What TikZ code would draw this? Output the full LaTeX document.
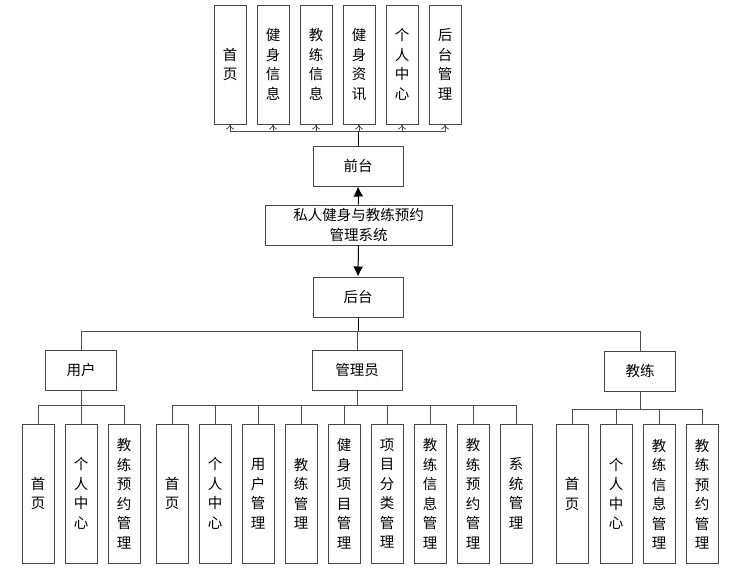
\documentclass[tikz,border=0pt]{standalone}
\usepackage{fontspec}
\setmainfont{Noto Sans CJK SC}
\usetikzlibrary{arrows,arrows.meta,shapes,positioning}
\tikzset{>=stealth}
\tikzset{
  box/.style={draw=black!72, line width=1pt, fill=white, inner sep=0pt,
    align=center, font=\fontsize{14.5}{19.5}\selectfont},
  colbox/.style={box, minimum width=32pt, minimum height=119pt},
  leafbox/.style={box, minimum width=32pt, minimum height=139pt},
  midbox/.style={box, minimum width=90pt, minimum height=40pt},
  rolebox/.style={box, minimum width=71pt, minimum height=40pt},
  link/.style={draw=black!70, line width=1pt},
  bigtip/.style={draw=black, -{Latex[length=10pt,width=10pt]}},
  smalltip/.style={-{To[length=5pt,width=8pt,line width=0.8pt]}}
}

\begin{document}
\begin{tikzpicture}[x=1pt,y=-1pt]
  \useasboundingbox (0,0) rectangle (734,574);

  % top part
  \node[colbox] (f1) at (230,64.5) {首\\页};
  \node[colbox] (f2) at (273,64.5) {健\\身\\信\\息};
  \node[colbox] (f3) at (316,64.5) {教\\练\\信\\息};
  \node[colbox] (f4) at (359,64.5) {健\\身\\资\\讯};
  \node[colbox] (f5) at (402,64.5) {个\\人\\中\\心};
  \node[colbox] (f6) at (445,64.5) {后\\台\\管\\理};
  \node[midbox] (front) at (358,166) {前台};
  \node[box, minimum width=187pt, minimum height=40pt] (sys) at (358.5,225)
    {私人健身与教练预约\\管理系统};
  \node[midbox] (back) at (358,297) {后台};
  \coordinate (fb) at (358,131);
  \draw[link,draw=black] (front.north) -- (fb);
  \foreach \i in {1,...,6}
    \draw[link,smalltip] (fb) -| (f\i.south);
  \draw[link,bigtip] (sys.north) -- (front.south);
  \draw[link,bigtip] (sys.south) -- (back.north);

  % roles
  \node[rolebox] (user) at (81,370) {用户};
  \node[midbox] (admin) at (357,370) {管理员};
  \node[rolebox] (coach) at (640,371) {教练};
  \coordinate (bb) at (358,331);
  \draw[link,draw=black] (back.south) -- (bb);
  \foreach \r in {user,admin,coach}
    \draw[link] (bb) -| (\r.north);

  % user
  \node[leafbox] (u1) at (38,493.5) {首\\页};
  \node[leafbox] (u2) at (81,493.5) {个\\人\\中\\心};
  \node[leafbox] (u3) at (124,493.5) {教\\练\\预\\约\\管\\理};
  \coordinate (ub) at (81,405);
  \draw[link] (user.south) -- (ub);
  \foreach \i in {1,2,3}
    \draw[link] (ub) -| (u\i.north);

  % admin
  \node[leafbox] (a1) at (172,493.5) {首\\页};
  \node[leafbox] (a2) at (215,493.5) {个\\人\\中\\心};
  \node[leafbox] (a3) at (258,493.5) {用\\户\\管\\理};
  \node[leafbox] (a4) at (301,493.5) {教\\练\\管\\理};
  \node[leafbox] (a5) at (344,493.5) {健\\身\\项\\目\\管\\理};
  \node[leafbox] (a6) at (387,493.5) {项\\目\\分\\类\\管\\理};
  \node[leafbox] (a7) at (430,493.5) {教\\练\\信\\息\\管\\理};
  \node[leafbox] (a8) at (473,493.5) {教\\练\\预\\约\\管\\理};
  \node[leafbox] (a9) at (516,493.5) {系\\统\\管\\理};
  \coordinate (ab) at (357,405);
  \draw[link] (admin.south) -- (ab);
  \foreach \i in {1,...,9}
    \draw[link] (ab) -| (a\i.north);

  % coach
  \node[leafbox] (c1) at (572,494) {首\\页};
  \node[leafbox] (c2) at (616,494) {个\\人\\中\\心};
  \node[leafbox] (c3) at (659,494) {教\\练\\信\\息\\管\\理};
  \node[leafbox] (c4) at (702,494) {教\\练\\预\\约\\管\\理};
  \coordinate (cb) at (640,409);
  \draw[link] (coach.south) -- (cb);
  \foreach \i in {1,...,4}
    \draw[link] (cb) -| (c\i.north);
\end{tikzpicture}
\end{document}
